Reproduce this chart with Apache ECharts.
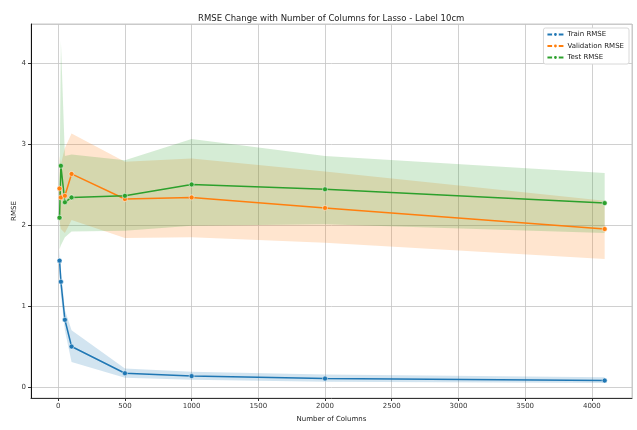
<!DOCTYPE html>
<html>
<head>
<meta charset="utf-8">
<title>RMSE Change with Number of Columns for Lasso - Label 10cm</title>
<script src="https://cdn.jsdelivr.net/npm/echarts@6/dist/echarts.min.js"></script>
<style>
  html, body { margin: 0; padding: 0; background: #fff; }
  #chart { width: 637px; height: 430px; }
</style>
</head>
<body>
<div id="chart"></div>
<script>
// Number of feature columns evaluated
const columns = [10, 20, 50, 100, 500, 1000, 2000, 4096];

// Mean RMSE per split, with lower / upper bounds of the confidence band
const trainRmse = [1.56, 1.30, 0.83, 0.50, 0.17, 0.135, 0.105, 0.08];
const trainLow  = [1.42, 1.14, 0.70, 0.31, 0.115, 0.09, 0.065, 0.05];
const trainHigh = [1.70, 1.46, 0.95, 0.70, 0.23, 0.19, 0.155, 0.12];

const valRmse = [2.45, 2.34, 2.36, 2.63, 2.32, 2.34, 2.21, 1.95];
const valLow  = [2.05, 1.95, 1.90, 2.06, 1.84, 1.85, 1.78, 1.58];
const valHigh = [2.85, 2.75, 2.95, 3.13, 2.78, 2.82, 2.66, 2.30];

const testRmse = [2.09, 2.73, 2.28, 2.34, 2.36, 2.50, 2.44, 2.27];
const testLow  = [1.70, 1.75, 1.85, 1.92, 1.93, 1.99, 2.01, 1.90];
const testHigh = [2.45, 4.27, 2.85, 2.87, 2.80, 3.06, 2.85, 2.64];

const seriesNames = ['Train RMSE', 'Validation RMSE', 'Test RMSE'];
const colors = ['#1f77b4', '#ff7f0e', '#2ca02c'];
const bandColors = ['rgba(31,119,180,0.2)', 'rgba(255,127,14,0.2)', 'rgba(44,160,44,0.2)'];

const FONT = '"DejaVu Sans", sans-serif';

function pairs(xs, ys) {
  return xs.map((x, i) => [x, ys[i]]);
}

// Confidence band drawn as one filled polygon: upper edge left->right, lower edge back
function band(low, high, color) {
  return {
    type: 'custom',
    silent: true,
    z: 1,
    data: columns.map((x, i) => [x, low[i], high[i]]),
    encode: { x: 0, y: [1, 2] },
    renderItem: function (params, api) {
      if (params.dataIndex !== 0) return null;
      const pts = [];
      for (let i = 0; i < columns.length; i++) pts.push(api.coord([columns[i], high[i]]));
      for (let i = columns.length - 1; i >= 0; i--) pts.push(api.coord([columns[i], low[i]]));
      return {
        type: 'polygon',
        shape: { points: pts },
        style: { fill: color, stroke: null }
      };
    }
  };
}

function meanLine(name, values, color) {
  return {
    name: name, type: 'line', data: pairs(columns, values),
    symbol: 'circle', symbolSize: 5, showSymbol: true,
    lineStyle: { color: color, width: 1.5 },
    itemStyle: { color: color, borderColor: '#fff', borderWidth: 0.5 },
    z: 3
  };
}

const chart = echarts.init(document.getElementById('chart'), null, { renderer: 'canvas' });

chart.setOption({
  animation: false,
  backgroundColor: '#fff',
  textStyle: { fontFamily: FONT },
  title: {
    text: 'RMSE Change with Number of Columns for Lasso - Label 10cm',
    left: 193, top: 9,
    textStyle: { fontFamily: FONT, fontSize: 8.5, fontWeight: 'normal', color: '#222' }
  },
  legend: {
    data: seriesNames,
    orient: 'vertical',
    right: 8, top: 28,
    padding: [3, 5, 3, 3],
    itemWidth: 16, itemHeight: 6, itemGap: 4.5,
    backgroundColor: '#fff',
    borderColor: '#d8d8d8', borderWidth: 1, borderRadius: 2,
    textStyle: { fontFamily: FONT, fontSize: 7, color: '#222', padding: [0, 0, 0, -1] }
  },
  grid: {
    left: 31, right: 5, top: 24, bottom: 32,
    outerBoundsMode: 'none',
    containLabel: false,
    show: true, borderColor: '#c8c8c8', borderWidth: 1
  },
  xAxis: {
    type: 'value',
    min: -204, max: 4301,
    splitNumber: 9,
    name: 'Number of Columns',
    nameLocation: 'middle', nameGap: 18, nameMoveOverlap: false,
    nameTextStyle: { fontFamily: FONT, fontSize: 7, color: '#222' },
    axisLine: { show: true, onZero: false, lineStyle: { color: '#333', width: 1 } },
    axisTick: { show: true, length: 3, lineStyle: { color: '#333' } },
    axisLabel: {
      fontFamily: FONT, fontSize: 7, color: '#333', margin: 5,
      showMinLabel: false, showMaxLabel: false,
      formatter: v => String(v)
    },
    splitLine: { show: true, lineStyle: { color: '#c4c4c4', width: 0.8 } }
  },
  yAxis: {
    type: 'value',
    min: -0.135, max: 4.48,
    splitNumber: 5,
    name: 'RMSE',
    nameLocation: 'middle', nameGap: 13, nameRotate: 90, nameMoveOverlap: false,
    nameTextStyle: { fontFamily: FONT, fontSize: 7, color: '#222' },
    axisLine: { show: true, onZero: false, lineStyle: { color: '#111', width: 1 } },
    axisTick: { show: true, length: 3, lineStyle: { color: '#333' } },
    axisLabel: { fontFamily: FONT, fontSize: 7, color: '#333', margin: 5, showMinLabel: false, showMaxLabel: false },
    splitLine: { show: true, lineStyle: { color: '#c4c4c4', width: 0.8 } }
  },
  series: [
    band(trainLow, trainHigh, bandColors[0]),
    band(valLow, valHigh, bandColors[1]),
    band(testLow, testHigh, bandColors[2]),
    meanLine(seriesNames[0], trainRmse, colors[0]),
    meanLine(seriesNames[1], valRmse, colors[1]),
    meanLine(seriesNames[2], testRmse, colors[2])
  ]
});
</script>
</body>
</html>
